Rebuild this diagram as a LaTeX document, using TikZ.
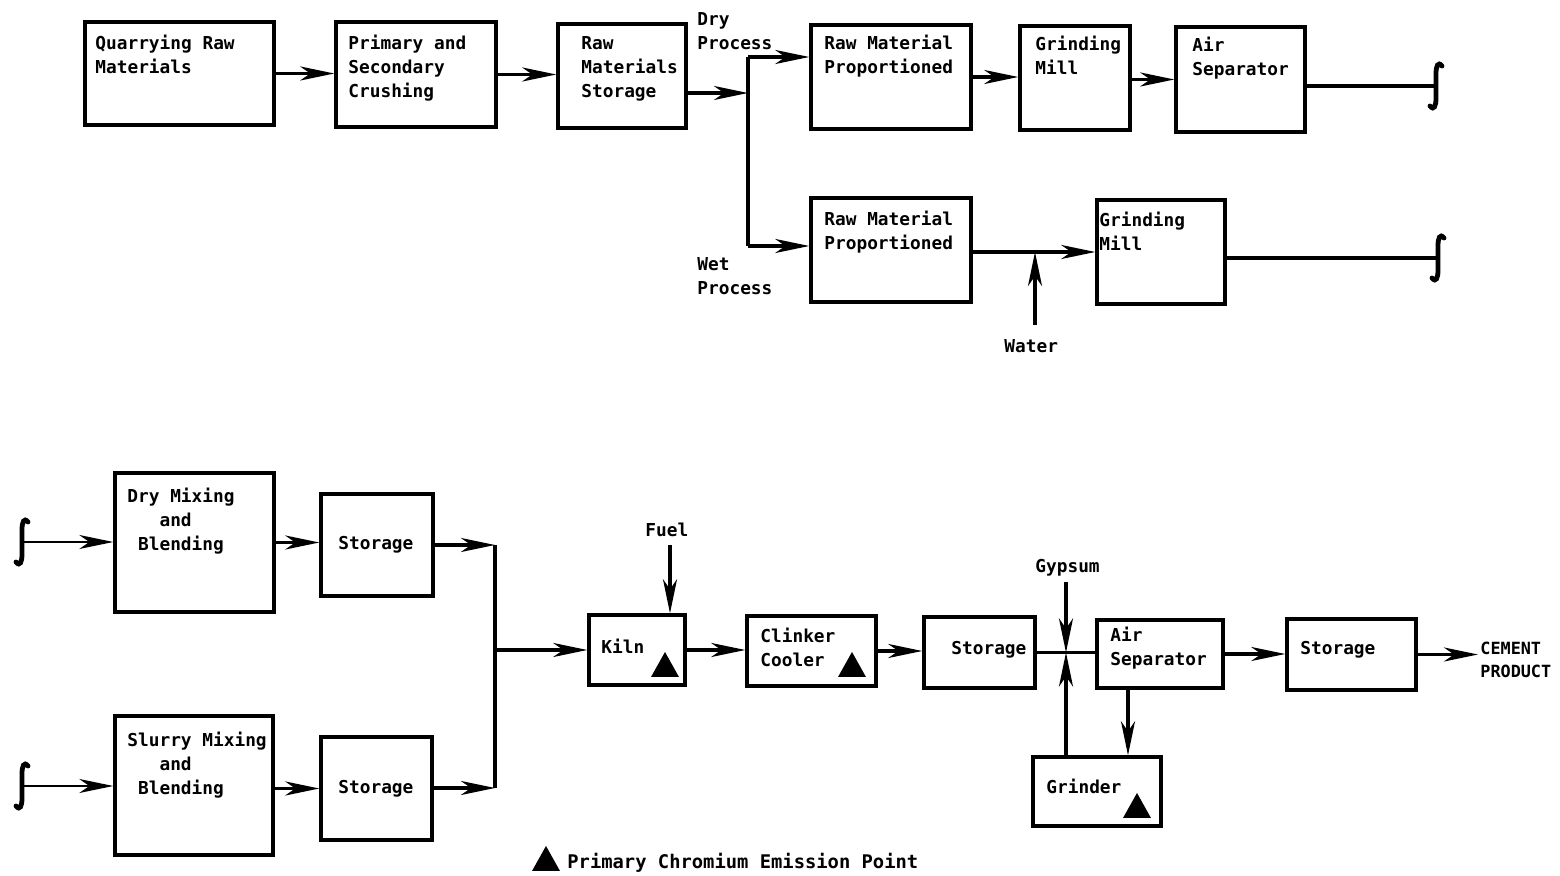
\documentclass[tikz,border=0pt]{standalone}
\usepackage{fontspec}
\setmainfont{DejaVu Sans Mono}
\usetikzlibrary{arrows.meta,fit}
\begin{document}
\begin{tikzpicture}[x=0.5pt,y=-0.5pt,
  box/.style={draw, line width=1.7pt, inner sep=0pt},
  arr/.style={line width=1.7pt, -{Stealth[length=17pt,width=7pt,inset=5pt]}},
  thinarr/.style={line width=0.8pt, -{Stealth[length=17pt,width=7pt,inset=5pt]}},
  ln/.style={line width=1.7pt},
  lbl/.style={inner sep=0pt, anchor=base west, align=left, font=\bfseries\fontsize{8.9}{12}\selectfont},
  integ/.style={line width=2.4pt, line cap=round},
  intg/.pic={\draw[integ] (6,-20) .. controls (2,-25) and (0,-20) .. (0,-12) -- (0,12) .. controls (0,20) and (-2,25) .. (-6,20);},
  tri/.pic={\fill (0,-13) -- (14,12) -- (-14,12) -- cycle;}]
\useasboundingbox (0,0) rectangle (1560,876);

% ---- top row boxes
\node[box, fit={(85,22) (274,125)}] (q) {};
\node[box, fit={(336,22) (496,127)}] (p) {};
\node[box, fit={(558,24) (686,128)}] (s) {};
\node[box, fit={(811,25) (971,129)}] (dprop) {};
\node[box, fit={(1020,26) (1130,130)}] (gm) {};
\node[box, fit={(1176,27) (1305,132)}] (air) {};
\node[box, fit={(811,198) (971,302)}] (wprop) {};
\node[box, fit={(1097,200) (1225,304)}] (wgm) {};

% ---- bottom boxes
\node[box, fit={(115,473) (274,612)}] (dmix) {};
\node[box, fit={(321,494) (433,596)}] (st1) {};
\node[box, fit={(115,716) (273,855)}] (smix) {};
\node[box, fit={(321,737) (432,840)}] (st2) {};
\node[box, fit={(589,615) (685,685)}] (kiln) {};
\node[box, fit={(747,616) (876,686)}] (cc) {};
\node[box, fit={(924,617) (1035,688)}] (st3) {};
\node[box, fit={(1097,620) (1223,688)}] (as2) {};
\node[box, fit={(1287,619) (1416,690)}] (st4) {};
\node[box, fit={(1033,757) (1161,826)}] (gr) {};

% ---- coordinates
\coordinate (j1) at (748,93);
\coordinate (jd) at (748,57);
\coordinate (jw) at (748,246);
\coordinate (i1) at (1436,86);
\coordinate (i2) at (1438,258);
\coordinate (wt) at (1035,325);
\coordinate (i3) at (22,542);
\coordinate (i4) at (22,786);
\coordinate (j2) at (495,545);
\coordinate (j3) at (495,788);
\coordinate (fu) at (670,545);
\coordinate (gy) at (1066,582);
\coordinate (ga) at (1128,700);
\coordinate (cp) at (1478,656);

% ---- labels (anchor = baseline of the last line)
\node[lbl] (tq) at (95,74) {Quarrying Raw\\Materials};
\node[lbl] (tp) at (348,98) {Primary and\\Secondary\\Crushing};
\node[lbl] (ts) at (581,98) {Raw\\Materials\\Storage};
\node[lbl] (tdry) at (697,50) {Dry\\Process};
\node[lbl] (tdp) at (824,74) {Raw Material\\Proportioned};
\node[lbl] (tgm) at (1035,75) {Grinding\\Mill};
\node[lbl] (tair) at (1192,76) {Air\\Separator};
\node[lbl] (twp) at (824,250) {Raw Material\\Proportioned};
\node[lbl] (twg) at (1099,251) {Grinding\\Mill};
\node[lbl] (twet) at (697,295) {Wet\\Process};
\node[lbl] (twat) at (1004,353) {Water};
\node[lbl] (tdm) at (127,551) {Dry Mixing\\~~~and\\~Blending};
\node[lbl] (ts1) at (338,550) {Storage};
\node[lbl] (tsm) at (127,795) {Slurry Mixing\\~~~and\\~Blending};
\node[lbl] (ts2) at (338,794) {Storage};
\node[lbl] (tfu) at (645,537) {Fuel};
\node[lbl] (tk) at (601,654) {Kiln};
\node[lbl] (tcc) at (760,667) {Clinker\\Cooler};
\node[lbl] (ts3) at (951,655) {Storage};
\node[lbl] (tgy) at (1035,573) {Gypsum};
\node[lbl] (tas) at (1110,666) {Air\\Separator};
\node[lbl] (ts4) at (1300,655) {Storage};
\node[lbl, font=\bfseries\fontsize{8.4}{11.5}\selectfont] (tcp) at (1480,678) {CEMENT\\PRODUCT};
\node[lbl] (tgr) at (1046,794) {Grinder};
\node[lbl, font=\bfseries\fontsize{9.4}{12}\selectfont] (tleg) at (567,869) {Primary Chromium Emission Point};

% ---- emission triangles
\pic at (665,665) {tri};
\pic at (852,665) {tri};
\pic at (1137,806) {tri};
\pic at (546,859) {tri};

% ---- integral signs
\pic at (i1) {intg};
\pic at (i2) {intg};
\pic at (i3) {intg};
\pic at (i4) {intg};

% ---- top connectors
\draw[arr] (q.east) -- (q.east -| p.west);
\draw[arr] (p.east) -- (p.east -| s.west);
\draw[arr] (s.east |- j1) -- (j1);
\draw[ln] (jd) -- (jw);
\draw[arr] (jd) -- (jd -| dprop.west);
\draw[arr] (jw) -- (jw -| wprop.west);
\draw[arr] (dprop.east) -- (dprop.east -| gm.west);
\draw[arr] (gm.east |- air.west) -- (air.west);
\draw[ln] (air.east |- i1) -- (i1);
\draw[arr] (wprop.east |- wgm.west) -- (wgm.west);
\draw[arr] (wt) -- (wt |- wgm.west);
\draw[ln] (wgm.east |- i2) -- (i2);

% ---- bottom connectors
\draw[thinarr] (i3) -- (i3 -| dmix.west);
\draw[thinarr] (i4) -- (i4 -| smix.west);
\draw[arr] (dmix.east) -- (dmix.east -| st1.west);
\draw[arr] (smix.east |- st2.west) -- (st2.west);
\draw[arr] (st1.east |- j2) -- (j2);
\draw[arr] (st2.east |- j3) -- (j3);
\draw[ln] (j2) -- (j3);
\draw[arr] (j2 |- kiln.west) -- (kiln.west);
\draw[arr] (fu) -- (fu |- kiln.north);
\draw[arr] (kiln.east) -- (kiln.east -| cc.west);
\draw[arr] (cc.east) -- (cc.east -| st3.west);
\draw[ln] (st3.east) -- (st3.east -| as2.west);
\draw[arr] (gy) -- (gy |- st3.east);
\draw[arr] (gr.north -| gy) -- (gy |- st3.east);
\draw[arr] (as2.south -| ga) -- (gr.north -| ga);
\draw[arr] (as2.east) -- (as2.east -| st4.west);
\draw[arr] (st4.east) -- (st4.east -| cp);
\end{tikzpicture}
\end{document}
